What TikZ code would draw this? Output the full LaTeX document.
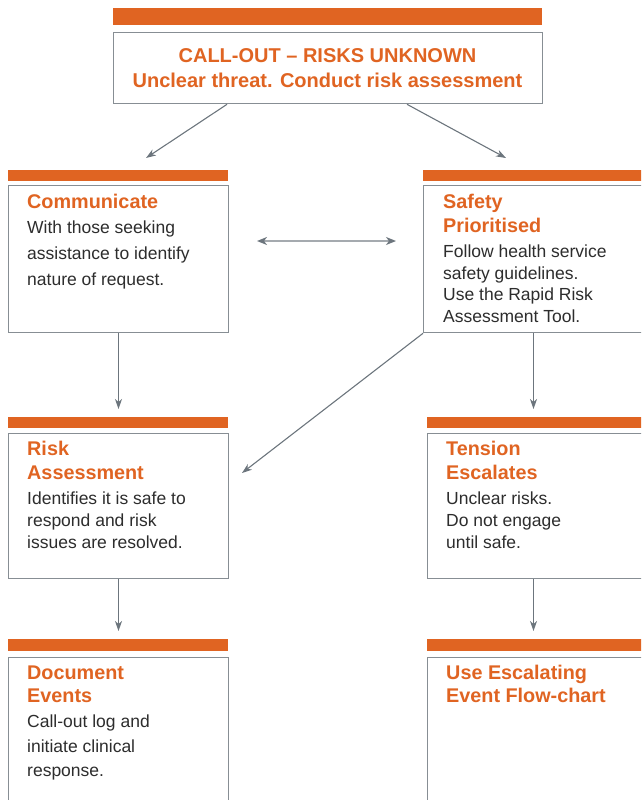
\documentclass[tikz,border=0pt]{standalone}
\usepackage{fontspec}
\setmainfont{Liberation Sans}
\usetikzlibrary{arrows.meta}
\definecolor{brandorange}{RGB}{224,100,34}
\definecolor{boxgray}{RGB}{135,142,148}
\definecolor{arrowgray}{RGB}{108,117,125}
\definecolor{linkgray}{RGB}{165,170,175}
\definecolor{bodytext}{RGB}{45,45,45}

\begin{document}
\begin{tikzpicture}[x=1pt,y=-1pt,
  bar/.style={fill=brandorange, draw=none, inner sep=0, anchor=north west},
  card/.style={draw=boxgray, line width=1.3pt, fill=white, inner sep=0, anchor=north west},
  head/.style={anchor=base west, inner sep=0, text=brandorange, font=\fontsize{19.8}{24}\selectfont\bfseries},
  title/.style={anchor=base, inner sep=0, text=brandorange, font=\fontsize{20}{24}\selectfont\bfseries},
  body/.style={anchor=base west, inner sep=0, text=bodytext, font=\fontsize{17.5}{22}\selectfont},
  flow/.style={draw=arrowgray, line width=1.1pt, -{Stealth[length=10pt,width=7pt,inset=3pt]}},
  link/.style={draw=linkgray, line width=1.6pt, {Stealth[length=10pt,width=8pt,inset=3pt,color=arrowgray]}-{Stealth[length=10pt,width=8pt,inset=3pt,color=arrowgray]}},
]
\useasboundingbox (0,0) rectangle (641,800);
\clip (0,0) rectangle (641,800);

% top call-out card
\node[bar, minimum width=429pt, minimum height=17pt] (topbar) at (113,8) {};
\node[card, minimum width=429pt, minimum height=71pt] (top) at (113,32) {};
\node[title] (topl1) at (327.5,63) {CALL-OUT – RISKS UNKNOWN};
\node[title] (topl2) at (327.5,87) {Unclear threat. Conduct risk assessment};

% row 1
\node[bar, minimum width=220pt, minimum height=10.5pt] (commbar) at (8,170) {};
\node[card, minimum width=220pt, minimum height=147.5pt] (comm) at (8,184.5) {};
\node[head] (commh1) at (27,208) {Communicate};
\node[body] (commb1) at (27,233) {With those seeking};
\node[body] (commb2) at (27,259) {assistance to identify};
\node[body] (commb3) at (27,285) {nature of request.};

\node[bar, minimum width=240pt, minimum height=10.5pt] (safebar) at (423,170) {};
\node[card, minimum width=240pt, minimum height=147.5pt] (safe) at (423,184.5) {};
\node[head] (safeh1) at (443,208) {Safety};
\node[head] (safeh2) at (443,232) {Prioritised};
\node[body] (safeb1) at (443,257.5) {Follow health service};
\node[body] (safeb2) at (443,279) {safety guidelines.};
\node[body] (safeb3) at (443,300.5) {Use the Rapid Risk};
\node[body] (safeb4) at (443,322) {Assessment Tool.};

% row 2
\node[bar, minimum width=220pt, minimum height=11pt] (riskbar) at (8,416.5) {};
\node[card, minimum width=220pt, minimum height=145pt] (risk) at (8,433) {};
\node[head] (riskh1) at (27,455) {Risk};
\node[head] (riskh2) at (27,479) {Assessment};
\node[body] (riskb1) at (27,504.5) {Identifies it is safe to};
\node[body] (riskb2) at (27,526.5) {respond and risk};
\node[body] (riskb3) at (27,548) {issues are resolved.};

\node[bar, minimum width=240pt, minimum height=11pt] (tensbar) at (427,416.5) {};
\node[card, minimum width=240pt, minimum height=145pt] (tens) at (427,433) {};
\node[head] (tensh1) at (446,455) {Tension};
\node[head] (tensh2) at (446,479) {Escalates};
\node[body] (tensb1) at (446,504.5) {Unclear risks.};
\node[body] (tensb2) at (446,526.5) {Do not engage};
\node[body] (tensb3) at (446,548) {until safe.};

% row 3
\node[bar, minimum width=220pt, minimum height=12pt] (docbar) at (8,639) {};
\node[card, minimum width=220pt, minimum height=170pt] (doc) at (8,657) {};
\node[head] (doch1) at (27,679) {Document};
\node[head] (doch2) at (27,702) {Events};
\node[body] (docb1) at (27,727) {Call-out log and};
\node[body] (docb2) at (27,752) {initiate clinical};
\node[body] (docb3) at (27,776) {response.};

\node[bar, minimum width=240pt, minimum height=12pt] (escbar) at (427,639) {};
\node[card, minimum width=240pt, minimum height=170pt] (esc) at (427,657) {};
\node[head] (esch1) at (446,679) {Use Escalating};
\node[head] (esch2) at (446,702) {Event Flow-chart};

% arrow ends that stop short of a card
\coordinate (toLeft) at (146,158);
\coordinate (toRight) at (506,158);
\coordinate (linkL) at (257,241);
\coordinate (linkR) at (396,241);
\coordinate (toRisk) at (118.5,409);
\coordinate (toTens) at (533.5,409);
\coordinate (diagEnd) at (242,473);
\coordinate (toDoc) at (118.5,631);
\coordinate (toEsc) at (533.5,631);

% connectors
\draw[flow] ([xshift=114pt]top.south west) -- (toLeft);
\draw[flow] ([xshift=294pt]top.south west) -- (toRight);
\draw[link] (linkL) -- (linkR);
\draw[flow] ([xshift=110.5pt]comm.south west) -- (toRisk);
\draw[flow] ([xshift=110.5pt]safe.south west) -- (toTens);
\draw[flow] (safe.south west) -- (diagEnd);
\draw[flow] ([xshift=110.5pt]risk.south west) -- (toDoc);
\draw[flow] ([xshift=106.5pt]tens.south west) -- (toEsc);
\end{tikzpicture}
\end{document}
